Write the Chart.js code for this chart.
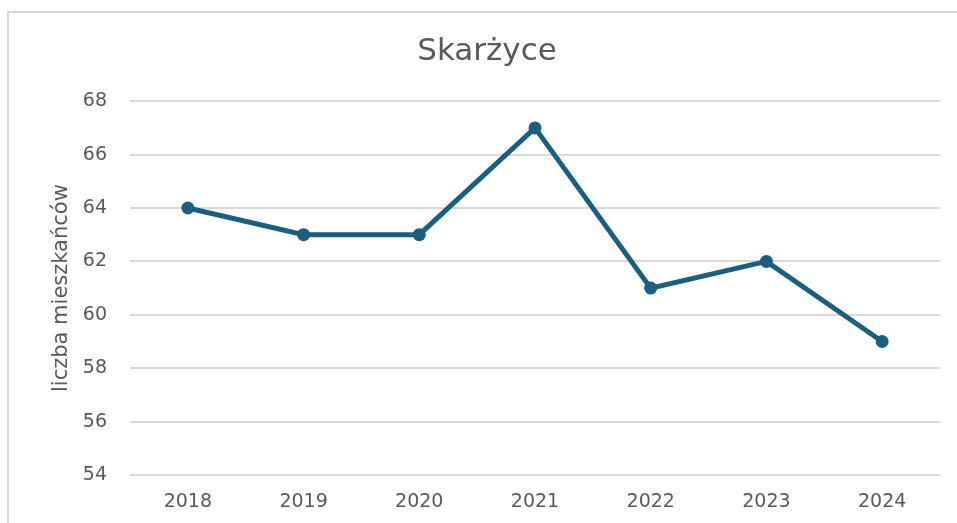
<!DOCTYPE html>
<html>
<head>
<meta charset="utf-8">
<script src="https://cdn.jsdelivr.net/npm/chart.js@4/dist/chart.umd.min.js"></script>
<style>
  html, body { margin: 0; padding: 0; background: #fff; overflow: hidden; }
  #frame { position: absolute; left: 7px; top: 11px; width: 1000px; height: 600px; border: 2px solid #d9d9d9; box-sizing: border-box; }
  #wrap { position: absolute; left: 0; top: 0; width: 957px; height: 523px; }
</style>
</head>
<body>
<div id="frame"></div>
<div id="wrap"><canvas id="c" width="957" height="523"></canvas></div>
<script>
const categories = ["2018", "2019", "2020", "2021", "2022", "2023", "2024"];
const residents = [64, 63, 63, 67, 61, 62, 59];
const yTicks = [54, 56, 58, 60, 62, 64, 66, 68];
const chartTitle = "Skarżyce";
const yAxisTitle = "liczba mieszkańców";

const FONT = "'DejaVu Sans', 'Liberation Sans', sans-serif";
const GREY = "#595959";
const LINE = "#1b5e80";

new Chart(document.getElementById("c"), {
  type: "line",
  data: {
    labels: categories,
    datasets: [{
      data: residents,
      borderColor: LINE,
      backgroundColor: LINE,
      borderWidth: 5,
      pointRadius: 6.5,
      pointBackgroundColor: LINE,
      pointBorderWidth: 0,
      tension: 0,
      fill: false
    }]
  },
  options: {
    responsive: false,
    animation: false,
    devicePixelRatio: 1,
    layout: { padding: { left: 34, right: 17, top: 0, bottom: 0 } },
    plugins: {
      legend: { display: false },
      tooltip: { enabled: false },
      title: {
        display: true,
        text: chartTitle,
        color: GREY,
        font: { family: FONT, size: 31, weight: "normal" },
        padding: { top: 33, bottom: 31 }
      }
    },
    scales: {
      x: {
        offset: true,
        grid: { display: false, drawTicks: false },
        border: { display: false },
        ticks: { color: GREY, font: { family: FONT, size: 19 }, padding: 16 },
        afterFit: s => { s.height = 48; }
      },
      y: {
        min: 54,
        max: 68,
        afterBuildTicks: s => { s.ticks = yTicks.map(v => ({ value: v })); },
        grid: { color: "#d9d9d9", lineWidth: 2, drawTicks: false },
        border: { display: false },
        ticks: { color: GREY, font: { family: FONT, size: 19 }, padding: 23 },
        title: {
          display: true,
          text: yAxisTitle,
          color: GREY,
          font: { family: FONT, size: 21 },
          padding: { top: 15, bottom: 0 }
        },
        afterFit: s => { s.width = 96; }
      }
    }
  }
});
</script>
</body>
</html>
